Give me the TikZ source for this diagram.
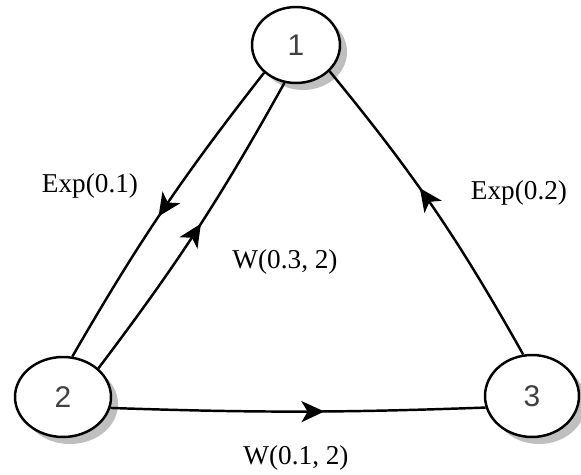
\documentclass[tikz,border=0pt]{standalone}
\usepackage{fontspec}
\setmainfont{Liberation Serif}
\newfontfamily\numfont{Liberation Sans}
\usetikzlibrary{shapes.geometric,arrows.meta,decorations.markings,shadows}
\tikzset{
  state/.style={ellipse, draw=black, line width=1.4pt, fill=white, inner sep=0pt,
    font=\numfont\fontsize{17pt}{17pt}\selectfont, text=black!75,
    drop shadow={shadow xshift=4pt, shadow yshift=-4pt, fill=black!25, opacity=1}},
  lbl/.style={font=\fontsize{15.5pt}{15.5pt}\selectfont, inner sep=0pt},
  edge/.style={line width=1.4pt, draw=black},
  midarrow/.style={postaction={decorate}, decoration={markings,
    mark=at position #1 with {\arrow{Stealth[length=13pt,width=12pt,inset=3.5pt]}}}}
}
\begin{document}
\begin{tikzpicture}[x=0.02cm,y=-0.02cm]
\useasboundingbox (0,0) rectangle (581,475);
\node[state, minimum width=1.76cm, minimum height=1.52cm] (n1) at (296,45) {1};
\node[state, minimum width=1.92cm, minimum height=1.60cm] (n2) at (63,397) {2};
\node[state, minimum width=1.88cm, minimum height=1.64cm] (n3) at (532,396) {3};
\draw[edge, midarrow=0.52] (n1.221) to[bend right=4] (n2.77);
\draw[edge, midarrow=0.52] (n2.39) to[bend right=4] (n1.253);
\draw[edge, midarrow=0.57] (n3.102) to[bend right=5] (n1.322);
\draw[edge, midarrow=0.57] (n2.347) to[bend right=2] (n3.194);
\node[lbl] (l1) at (90,186) {Exp(0.1)};
\node[lbl] (l2) at (285,262) {W(0.3, 2)};
\node[lbl] (l3) at (519,193) {Exp(0.2)};
\node[lbl] (l4) at (296,458) {W(0.1, 2)};
\end{tikzpicture}
\end{document}
